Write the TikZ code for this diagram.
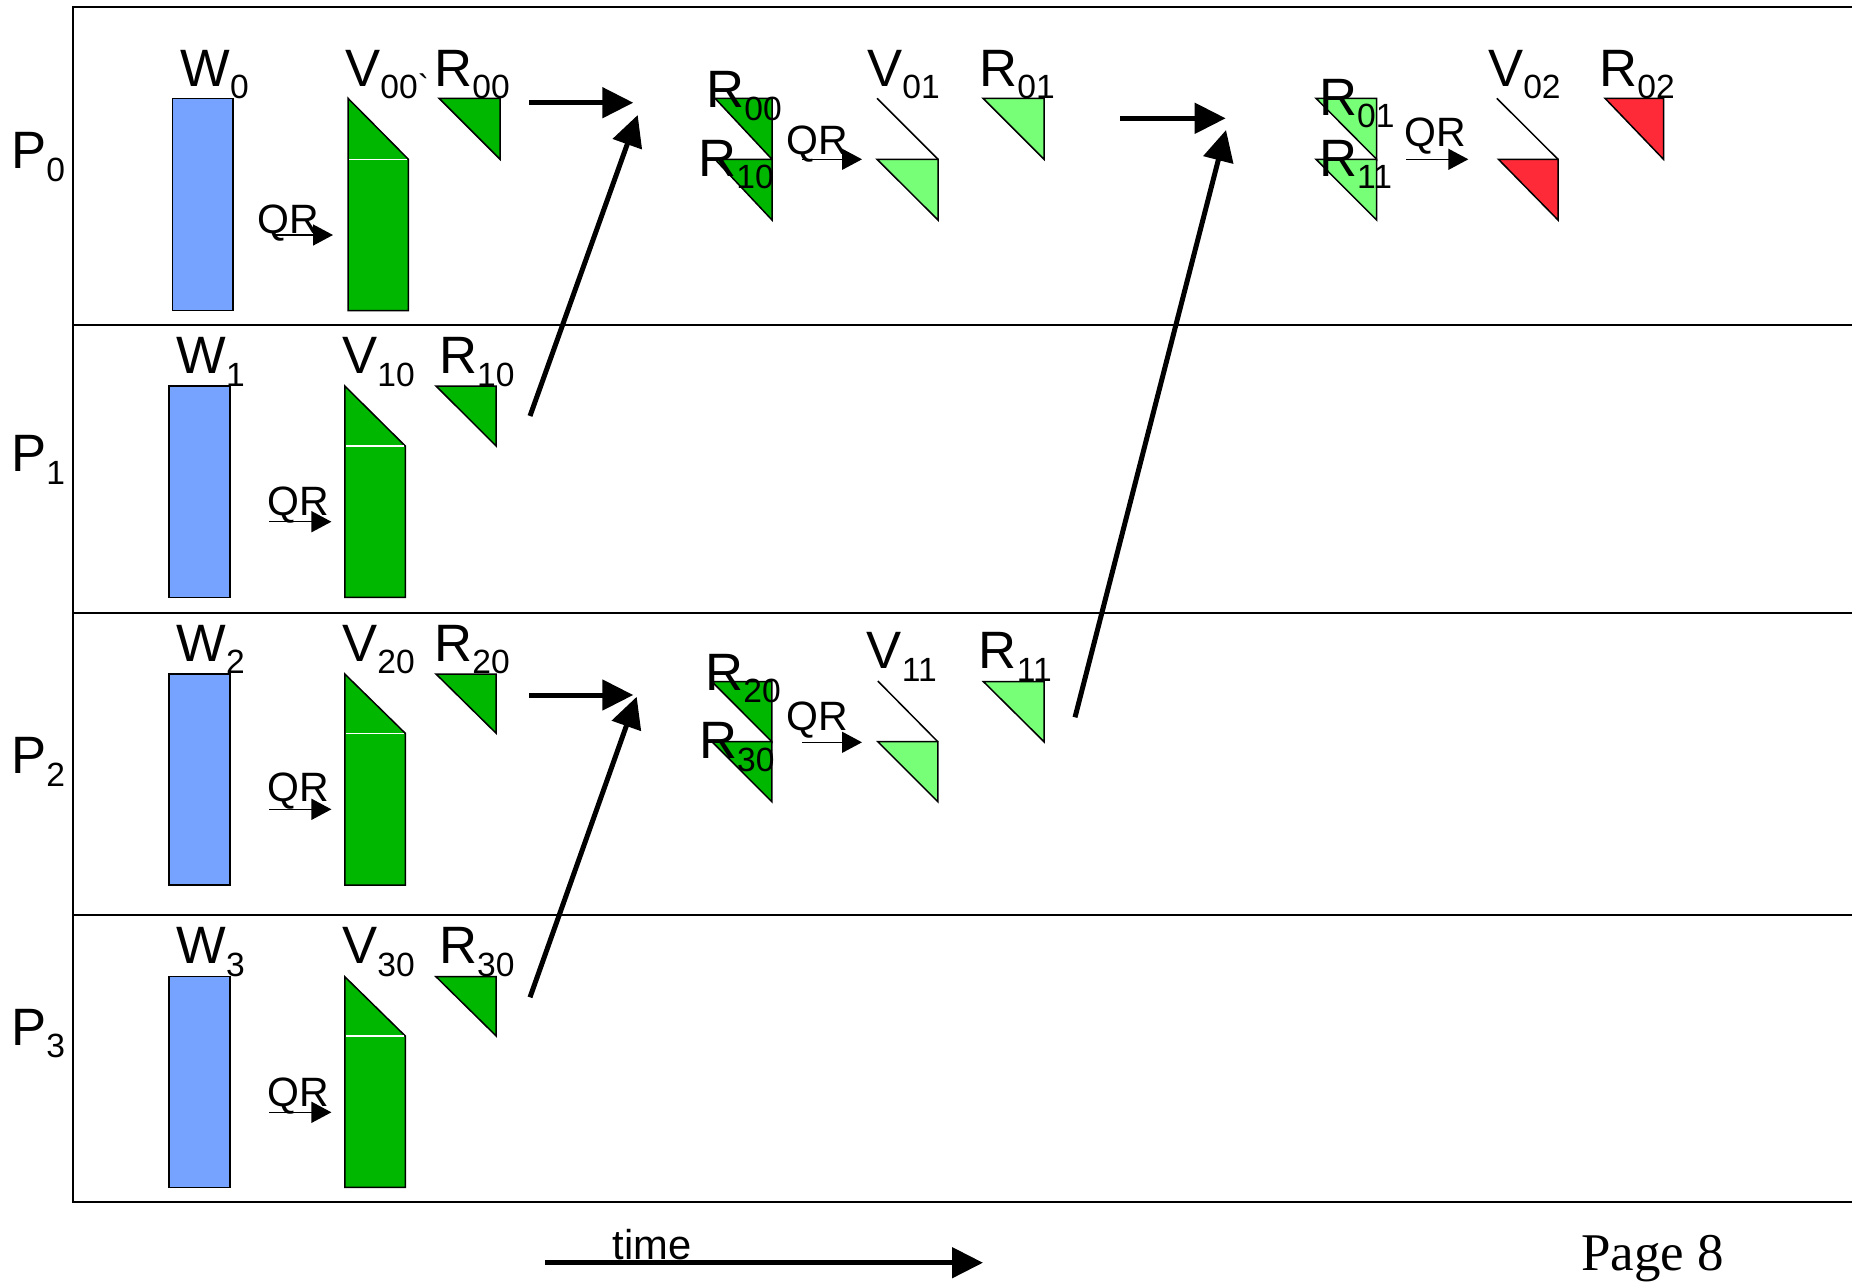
\documentclass[tikz,border=0pt]{standalone}
\usepackage{fontspec}
\setmainfont{Liberation Sans}
\newfontfamily\pagefont{Liberation Serif}
\usetikzlibrary{arrows.meta}

\definecolor{wblue}{RGB}{117,163,255}
\definecolor{vgreen}{RGB}{0,183,0}
\definecolor{lgreen}{RGB}{119,255,119}
\definecolor{rred}{RGB}{255,42,56}

\newcommand\mainsz{\fontsize{26.3}{30}\selectfont}
\newcommand\subsz{\fontsize{16.8}{19}\selectfont}
\newcommand\qrsz{\fontsize{20.5}{24}\selectfont}
\newcommand\sublab[2]{#1\raisebox{-6.4pt}{\subsz #2}}

\begin{document}
\begin{tikzpicture}[x=0.5pt,y=-0.5pt,
  frame/.style={draw=black, line width=1pt},
  divider/.style={draw=black, line width=0.8pt},
  outline/.style={draw=black, line width=0.75pt, line join=miter},
  wbox/.style={outline, fill=wblue},
  lab/.style={inner sep=0pt, anchor=base west, font=\mainsz},
  qrlab/.style={inner sep=0pt, anchor=base west, font=\qrsz},
  qrarrow/.style={draw=black, line width=0.75pt, -{Triangle[length=10pt,width=10.5pt]}},
  bigarrow/.style={draw=black, line width=2.5pt, -{Triangle[length=15.5pt,width=15pt]}}
]
\useasboundingbox (0,0) rectangle (1852,1281);

% ---- frame and lanes ----
\draw[frame] (1852,7) -- (73,7) -- (73,1202) -- (1852,1202);
\draw[divider] (73,325) -- (1852,325);
\draw[divider] (73,613) -- (1852,613);
\draw[divider] (73,915) -- (1852,915);

\node[lab] (p0) at (11,168.3) {\sublab{P}{0}};
\node[lab] (p1) at (11,471.7) {\sublab{P}{1}};
\node[lab] (p2) at (11,773.3) {\sublab{P}{2}};
\node[lab] (p3) at (11,1045) {\sublab{P}{3}};

% ---- first stage: local QR on every processor ----
% row 0
\filldraw[wbox] (172.6,98.3) rectangle (233,310.7);
\filldraw[outline, fill=vgreen] (348,98.3) -- (408.4,159.3) -- (408.4,310.7) -- (348,310.7) -- cycle;
\draw[white, line width=0.6pt] (349,159.3) -- (407.4,159.3);
\filldraw[outline, fill=vgreen] (439,98.3) -- (500,98.3) -- (500,159.3) -- cycle;
\node[lab] (w0) at (180,86) {\sublab{W}{0}};
\node[lab] (v00) at (345,86) {\sublab{V}{00\textasciigrave}};
\node[lab] (r00) at (434,86) {\sublab{R}{00}};
\node[qrlab] (qr0) at (257.5,233) {QR};
\coordinate (qr0s) at (273,235);
\coordinate (qr0e) at (333,235);
\draw[qrarrow] (qr0s) -- (qr0e);

% row 1
\filldraw[wbox] (169.2,386) rectangle (230.1,597.3);
\filldraw[outline, fill=vgreen] (344.8,386) -- (405.3,446) -- (405.3,597.3) -- (344.8,597.3) -- cycle;
\draw[white, line width=0.6pt] (345.8,446) -- (404.3,446);
\filldraw[outline, fill=vgreen] (436,386) -- (496.2,386) -- (496.2,446) -- cycle;
\node[lab] (w1) at (176,373.3) {\sublab{W}{1}};
\node[lab] (v10) at (342,373.3) {\sublab{V}{10}};
\node[lab] (r10) at (438.8,373.3) {\sublab{R}{10}};
\node[qrlab] (qr1) at (267.5,515) {QR};
\coordinate (qr1s) at (269,521.7);
\coordinate (qr1e) at (331.4,521.7);
\draw[qrarrow] (qr1s) -- (qr1e);

% row 2
\filldraw[wbox] (169.2,674) rectangle (230.1,885);
\filldraw[outline, fill=vgreen] (344.8,674) -- (405.3,733.3) -- (405.3,885) -- (344.8,885) -- cycle;
\draw[white, line width=0.6pt] (345.8,733.3) -- (404.3,733.3);
\filldraw[outline, fill=vgreen] (436,674) -- (496.2,674) -- (496.2,733.3) -- cycle;
\node[lab] (w2) at (176,661) {\sublab{W}{2}};
\node[lab] (v20) at (342,661) {\sublab{V}{20}};
\node[lab] (r20) at (434,661) {\sublab{R}{20}};
\node[qrlab] (qr2) at (267.5,801.7) {QR};
\coordinate (qr2s) at (269,809.3);
\coordinate (qr2e) at (331.4,809.3);
\draw[qrarrow] (qr2s) -- (qr2e);

% row 3
\filldraw[wbox] (169.2,976.7) rectangle (230.1,1187.3);
\filldraw[outline, fill=vgreen] (344.8,976.7) -- (405.3,1036) -- (405.3,1187.3) -- (344.8,1187.3) -- cycle;
\draw[white, line width=0.6pt] (345.8,1036) -- (404.3,1036);
\filldraw[outline, fill=vgreen] (436,976.7) -- (496.2,976.7) -- (496.2,1036) -- cycle;
\node[lab] (w3) at (176,963.3) {\sublab{W}{3}};
\node[lab] (v30) at (342,963.3) {\sublab{V}{30}};
\node[lab] (r30) at (438.8,963.3) {\sublab{R}{30}};
\node[qrlab] (qr3) at (267.5,1106.7) {QR};
\coordinate (qr3s) at (269,1112.3);
\coordinate (qr3e) at (331.4,1112.3);
\draw[qrarrow] (qr3s) -- (qr3e);

% ---- second stage: pairs of R factors ----
% row 0
\filldraw[outline, fill=vgreen] (715,98.3) -- (772,98.3) -- (772,159.3) -- cycle;
\filldraw[outline, fill=vgreen] (715,159.3) -- (772,159.3) -- (772,220) -- cycle;
\node[lab] (r00b) at (706,107.3) {\sublab{R}{00}};
\node[lab] (r10b) at (698,176) {\sublab{R}{10}};
\node[qrlab] (qr4) at (786.5,154) {QR};
\coordinate (qr4s) at (802,159.3);
\coordinate (qr4e) at (862,159.3);
\draw[qrarrow] (qr4s) -- (qr4e);
\draw[outline] (877,98.3) -- (938,159.3);
\filldraw[outline, fill=lgreen] (877,159.3) -- (938,159.3) -- (938,220) -- cycle;
\node[lab] (v01) at (867,86) {\sublab{V}{01}};
\filldraw[outline, fill=lgreen] (983,98.3) -- (1044,98.3) -- (1044,159.3) -- cycle;
\node[lab] (r01) at (979,86) {\sublab{R}{01}};

% row 2
\filldraw[outline, fill=vgreen] (712,681.7) -- (771.8,681.7) -- (771.8,741.7) -- cycle;
\filldraw[outline, fill=vgreen] (712,741.7) -- (771.8,741.7) -- (771.8,801.7) -- cycle;
\node[lab] (r20b) at (705,690) {\sublab{R}{20}};
\node[lab] (r30b) at (698.8,758.3) {\sublab{R}{30}};
\node[qrlab] (qr5) at (786.3,730) {QR};
\coordinate (qr5s) at (802,742.3);
\coordinate (qr5e) at (862,742.3);
\draw[qrarrow] (qr5s) -- (qr5e);
\draw[outline] (877.8,681) -- (937.8,741.7);
\filldraw[outline, fill=lgreen] (877.8,741.7) -- (937.8,741.7) -- (937.8,801.7) -- cycle;
\node[lab] (v11) at (866.4,668.3) {\sublab{V}{11}};
\filldraw[outline, fill=lgreen] (983.5,681.7) -- (1044,681.7) -- (1044,741.7) -- cycle;
\node[lab] (r11) at (978.5,668.3) {\sublab{R}{11}};

% ---- third stage: final R ----
\filldraw[outline, fill=lgreen] (1316,98.3) -- (1376.6,98.3) -- (1376.6,159.3) -- cycle;
\filldraw[outline, fill=lgreen] (1316,159.3) -- (1376.6,159.3) -- (1376.6,220) -- cycle;
\node[lab] (r01b) at (1318.7,115) {\sublab{R}{01}};
\node[lab] (r11b) at (1318.7,176) {\sublab{R}{11}};
\node[qrlab] (qr6) at (1404.3,146.7) {QR};
\coordinate (qr6s) at (1406,159.3);
\coordinate (qr6e) at (1468.3,159.3);
\draw[qrarrow] (qr6s) -- (qr6e);
\draw[outline] (1496.8,98.3) -- (1558,159.3);
\filldraw[outline, fill=rred] (1498.4,159.3) -- (1558,159.3) -- (1558,220) -- cycle;
\node[lab] (v02) at (1487.8,86) {\sublab{V}{02}};
\filldraw[outline, fill=rred] (1605,98.3) -- (1663.5,98.3) -- (1663.5,159.3) -- cycle;
\node[lab] (r02) at (1599,86) {\sublab{R}{02}};

% ---- communication arrows ----
\coordinate (a0s) at (529.3,102.7);
\coordinate (a0e) at (633.3,102.7);
\coordinate (a1s) at (530,416);
\coordinate (a1e) at (637.7,115);
\coordinate (a2s) at (529.3,695);
\coordinate (a2e) at (633.3,695);
\coordinate (a3s) at (530,997.3);
\coordinate (a3e) at (636.7,696.7);
\coordinate (b0s) at (1120,118.3);
\coordinate (b0e) at (1225.7,118.3);
\coordinate (b1s) at (1075,717.3);
\coordinate (b1e) at (1226,130);
\draw[bigarrow] (a0s) -- (a0e);
\draw[bigarrow] (a1s) -- (a1e);
\draw[bigarrow] (a2s) -- (a2e);
\draw[bigarrow] (a3s) -- (a3e);
\draw[bigarrow] (b0s) -- (b0e);
\draw[bigarrow] (b1s) -- (b1e);

% ---- time axis and footer ----
\coordinate (ts) at (545,1262.7);
\coordinate (te) at (983,1262.7);
\draw[bigarrow] (ts) -- (te);
\node[inner sep=0pt, anchor=base west, font=\fontsize{20.85}{24}\selectfont] (time) at (612.3,1259) {time};
\node[inner sep=0pt, anchor=base west, font=\pagefont\fontsize{26.5}{30}\selectfont] (page) at (1581,1270) {Page 8};
\end{tikzpicture}
\end{document}
